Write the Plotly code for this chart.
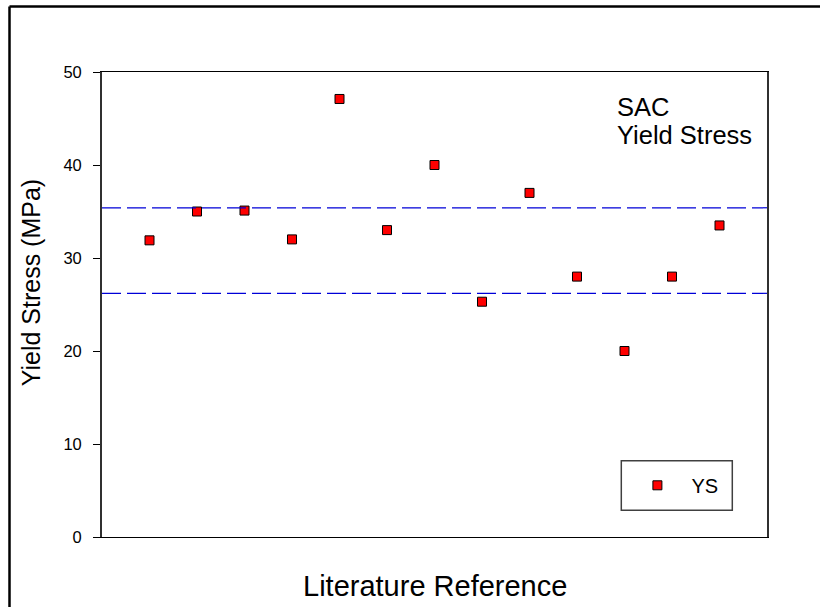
import plotly.graph_objects as go

# ---- data ----
reference_index = [1, 2, 3, 4, 5, 6, 7, 8, 9, 10, 11, 12, 13]
yield_stress = [31.9, 35.0, 35.1, 32.0, 47.1, 33.0, 40.0, 25.3, 37.0, 28.0, 20.0, 28.0, 33.5]
band_lines = [35.4, 26.2]
y_ticks = [0, 10, 20, 30, 40, 50]
series_name = "YS"

FONT = "Liberation Sans, Arial, sans-serif"
W, H = 820, 607
L, R, T, B = 102, 53, 72, 70
PW, PH = W - L - R, H - T - B


def px(x):
    return (x - L) / PW


def py(y):
    return (H - B - y) / PH


fig = go.Figure()
fig.add_trace(go.Scatter(
    x=reference_index, y=yield_stress, mode="markers", name=series_name,
    marker=dict(symbol="square", size=9, color="#FF0000",
                line=dict(color="black", width=1)),
))

shapes = []
for v in band_lines:
    shapes.append(dict(type="line", xref="paper", yref="y", x0=0, x1=1, y0=v, y1=v,
                       line=dict(color="#0000D8", width=1.2, dash="19px,6px")))
# outer frame (left and top edges visible)
shapes.append(dict(type="line", xref="paper", yref="paper", x0=px(9.5), x1=px(9.5),
                   y0=py(6.5), y1=py(640), line=dict(color="black", width=2.5)))
shapes.append(dict(type="line", xref="paper", yref="paper", x0=px(9.5), x1=px(840),
                   y0=py(6.5), y1=py(6.5), line=dict(color="black", width=2.5)))
# legend box
shapes.append(dict(type="rect", xref="paper", yref="paper", x0=px(621.3), x1=px(732.3),
                   y0=py(510.3), y1=py(460.7), line=dict(color="#404040", width=1.5)))

annotations = [
    dict(text="SAC", xref="paper", yref="paper", x=px(614.5), y=py(106.5),
         xanchor="left", yanchor="middle", showarrow=False,
         font=dict(family=FONT, size=25.5, color="black")),
    dict(text="Yield Stress", xref="paper", yref="paper", x=px(614.5), y=py(135.2),
         xanchor="left", yanchor="middle", showarrow=False,
         font=dict(family=FONT, size=25.5, color="black")),
    dict(text="Yield Stress (MPa)", xref="paper", yref="paper", x=px(31), y=py(283.3),
         xanchor="center", yanchor="middle", textangle=-90, showarrow=False,
         font=dict(family=FONT, size=25, color="black")),
    dict(text="Literature Reference", xref="paper", yref="paper", x=0.5, y=py(586),
         xanchor="center", yanchor="middle", showarrow=False,
         font=dict(family=FONT, size=29, color="black")),
]

fig.update_layout(
    width=W, height=H,
    margin=dict(l=L, r=R, t=T, b=B),
    paper_bgcolor="white", plot_bgcolor="white",
    font=dict(family=FONT, color="black"),
    shapes=shapes, annotations=annotations,
    showlegend=True,
    legend=dict(x=px(623.4), y=py(485.3), xanchor="left", yanchor="middle",
                bgcolor="rgba(0,0,0,0)", borderwidth=0, itemwidth=58,
                font=dict(family=FONT, size=20, color="black")),
    xaxis=dict(range=[0, 14], showticklabels=False, ticks="", showgrid=False,
               zeroline=False, showline=True, linecolor="black", linewidth=1.2,
               mirror=True),
    yaxis=dict(range=[0, 50], tickvals=y_ticks, ticks="outside", ticklen=7,
               tickwidth=1.2, tickcolor="black", showgrid=False, zeroline=False,
               showline=True, linecolor="#303030", linewidth=1.8, mirror=True,
               tickfont=dict(family=FONT, size=16.5, color="black"), ticklabelstandoff=8),
)

fig.write_html("out.html")
